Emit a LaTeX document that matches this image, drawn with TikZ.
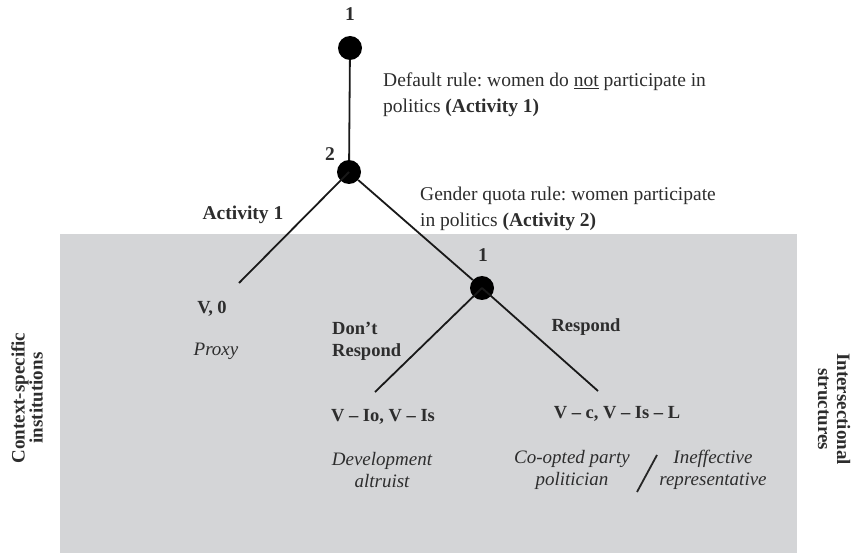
\documentclass[tikz,border=0pt]{standalone}
\usepackage{fontspec}
\setmainfont{Liberation Serif}
\frenchspacing
\definecolor{greyfill}{RGB}{212,213,215}
\definecolor{ink}{RGB}{45,45,45}
\begin{document}
\begin{tikzpicture}[x=1pt,y=-1pt,
  dec/.style={circle,fill=black,minimum size=24pt,inner sep=0pt},
  edge/.style={draw=black!90,line width=1.8pt},
  txt/.style={font=\fontsize{19.5}{26}\selectfont,text=ink,inner sep=0pt},
  bl/.style={txt,font=\fontsize{18.5}{22}\selectfont\bfseries},
  it/.style={txt,font=\fontsize{19}{22.5}\selectfont\itshape,align=center}]
\useasboundingbox (0,0) rectangle (855,556);
\fill[greyfill] (60,234) rectangle (797,553);
% decision nodes
\node[dec] (n1) at (350,48) {};
\node[dec] (n2) at (349,172) {};
\node[dec] (n3) at (482,288) {};
\coordinate (e1) at (239,283);
\coordinate (e2) at (375,392);
\coordinate (e3) at (598,391);
\draw[edge] (n1) -- (n2);
\draw[edge] (n2.center) -- (e1);
\draw[edge] (n2) -- (n3);
\draw[edge] (n3.center) -- (e2);
\draw[edge] (n3.center) -- (e3);
% player labels
\node[bl,font=\fontsize{19.5}{21}\selectfont\bfseries] (p1) at (350,14) {1};
\node[bl,font=\fontsize{19.5}{21}\selectfont\bfseries] (p2) at (330,154) {2};
\node[bl,font=\fontsize{19.5}{21}\selectfont\bfseries] (p3) at (483,255) {1};
% rule texts
\node[txt,anchor=west,align=left] (r1) at (383,95) {Default rule: women do \underline{not} participate in\\politics \textbf{(Activity 1)}};
\node[txt,anchor=west,align=left] (r2) at (420,209) {Gender quota rule: women participate\\in politics \textbf{(Activity 2)}};
% branch labels
\node[bl,font=\fontsize{19.5}{22}\selectfont\bfseries] (a1) at (243,215) {Activity 1};
\node[bl,align=left,anchor=west] (dr) at (332,341) {Don’t\\Respond};
\node[bl] (rs) at (586,327) {Respond};
% payoffs
\node[bl] (v0) at (212,309) {V, 0};
\node[it] (px) at (216,351) {Proxy};
\node[bl] (v1) at (383,417) {V – Io, V – Is};
\node[it] (da) at (382,470) {Development\\altruist};
\node[bl] (v2) at (617,414) {V – c, V – Is – L};
\node[it] (cp) at (572,470) {Co-opted party\\politician};
\node[it] (ie) at (713,470) {Ineffective\\representative};
\coordinate (s1) at (637,492);
\coordinate (s2) at (657,455);
\draw[line width=1.8pt,black!85] (s1) -- (s2);
% side labels
\node[bl,align=center,rotate=90,font=\fontsize{19}{18}\selectfont\bfseries] (ci) at (27,398) {Context-specific\\institutions};
\node[bl,align=center,rotate=-90,font=\fontsize{19}{19}\selectfont\bfseries] (is) at (834,409) {Intersectional\\structures};
\end{tikzpicture}
\end{document}
